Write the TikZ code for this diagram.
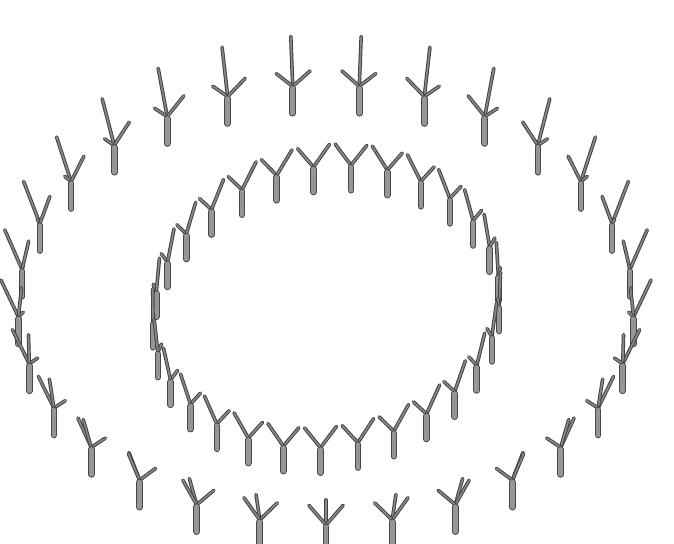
\documentclass[tikz,border=0pt]{standalone}
\usetikzlibrary{calc}
\begin{document}
\begin{tikzpicture}[x=1pt,y=-1pt,
  stemout/.style={line width=6.6pt, draw={rgb,255:red,70;green,70;blue,70}, line cap=round},
  steminn/.style={line width=4.6pt, draw={rgb,255:red,150;green,150;blue,150}, line cap=round},
  armout/.style={line width=3.6pt, draw={rgb,255:red,65;green,65;blue,65}, line cap=round},
  arminn/.style={line width=1.7pt, draw={rgb,255:red,135;green,135;blue,135}, line cap=round}]
\fill[white] (0,0) rectangle (674,543);
\useasboundingbox (0,0) rectangle (674,543);
% ---------------- outer ring ----------------
\foreach \k in {0,28,1,27,2,26,3,25,4,24,5,23,6,22,7,21,8,20,9,19,10,18,11,17,12,16,13,15,14} {
  \pgfmathsetmacro\th{96.2069+12.41379*\k}
  \pgfmathsetmacro\mc{cos(\th)}
  \pgfmathsetmacro\ms{sin(\th)}
  \pgfmathsetmacro\bx{326+308*(\mc)}
  \pgfmathsetmacro\by{332-220*(\ms)}
  \pgfmathsetmacro\rx{\mc}
  \pgfmathsetmacro\ry{-0.7143*(\ms)}
  \pgfmathsetmacro\tx{-1*(\ms)}
  \pgfmathsetmacro\ty{-0.7143*(\mc)}
  \pgfmathsetmacro\ax{17.5*(-0.2250*(\rx)+0.9744*(\tx))}
  \pgfmathsetmacro\ay{17.5*(-0.2250*(\ry)+0.9744*(\ty))-16.8}
  \pgfmathsetmacro\bxx{17.5*(-0.2250*(\rx)-0.9744*(\tx))}
  \pgfmathsetmacro\byy{17.5*(-0.2250*(\ry)-0.9744*(\ty))-16.8}
  \pgfmathsetmacro\cxx{17.5*(\rx)}
  \pgfmathsetmacro\cyy{17.5*(\ry)-37.5}
  \coordinate (B) at (\bx,\by);
  \coordinate (J) at (\bx,\by-27);
  \coordinate (A1) at ($(J)+(\ax,\ay)$);
  \coordinate (A2) at ($(J)+(\bxx,\byy)$);
  \coordinate (A3) at ($(J)+(\cxx,\cyy)$);
  \draw[armout] (J) -- (A3); \draw[arminn] (J) -- (A3);
  \draw[armout] (J) -- (A1); \draw[arminn] (J) -- (A1);
  \draw[armout] (J) -- (A2); \draw[arminn] (J) -- (A2);
  \draw[stemout] (B) -- ($(J)+(0,2)$); \draw[steminn] (B) -- ($(J)+(0,2)$);
}
% ---------------- inner ring ----------------
\foreach \k in {0,28,1,27,2,26,3,25,4,24,5,23,6,22,7,21,8,20,9,19,10,18,11,17,12,16,13,15,14} {
  \pgfmathsetmacro\th{96.2069+12.41379*\k}
  \pgfmathsetmacro\mc{cos(\th)}
  \pgfmathsetmacro\ms{sin(\th)}
  \pgfmathsetmacro\bx{326.4+173.3*(\mc)+5.9*(\ms)}
  \pgfmathsetmacro\by{331.5-8.15*(\mc)-141.2*(\ms)}
  \pgfmathsetmacro\tx{(-173.3*(\ms)+5.9*(\mc))/173.5}
  \pgfmathsetmacro\ty{(8.15*(\ms)-141.2*(\mc))/173.5}
  \pgfmathsetmacro\ax{16*(\tx)}
  \pgfmathsetmacro\ay{16*(\ty)-20.5}
  \pgfmathsetmacro\bxx{-16*(\tx)}
  \pgfmathsetmacro\byy{-16*(\ty)-20.5}
  \coordinate (B) at (\bx,\by);
  \coordinate (J) at (\bx,\by-25);
  \coordinate (A1) at ($(J)+(\ax,\ay)$);
  \coordinate (A2) at ($(J)+(\bxx,\byy)$);
  \draw[armout] (J) -- (A1); \draw[arminn] (J) -- (A1);
  \draw[armout] (J) -- (A2); \draw[arminn] (J) -- (A2);
  \draw[stemout] (B) -- ($(J)+(0,2)$); \draw[steminn] (B) -- ($(J)+(0,2)$);
}
\end{tikzpicture}
\end{document}
